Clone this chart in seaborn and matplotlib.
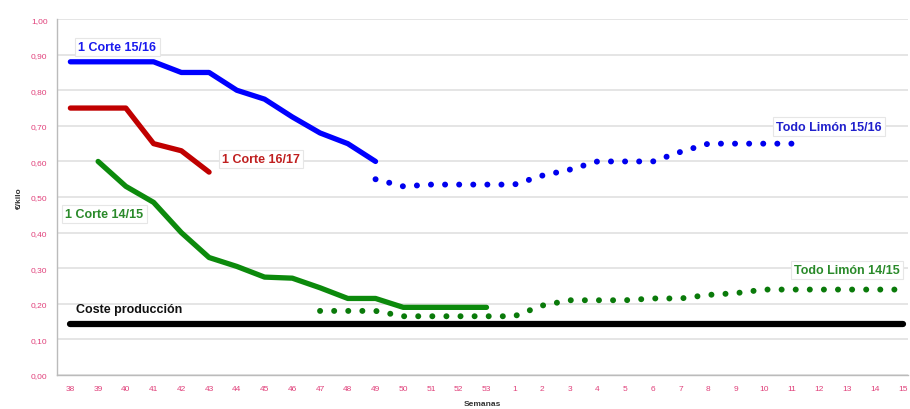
import numpy as np
import pandas as pd
import matplotlib
matplotlib.use("Agg")
import matplotlib.pyplot as plt
import seaborn as sns

weeks = [38, 39, 40, 41, 42, 43, 44, 45, 46, 47, 48, 49, 50, 51, 52, 53,
         1, 2, 3, 4, 5, 6, 7, 8, 9, 10, 11, 12, 13, 14, 15]
nan = np.nan
corte_15_16 = [0.88, 0.88, 0.88, 0.88, 0.85, 0.85, 0.80, 0.775, 0.725, 0.68, 0.65, 0.60] + [nan] * 19
corte_16_17 = [0.75, 0.75, 0.75, 0.65, 0.63, 0.57] + [nan] * 25
corte_14_15 = [nan, 0.60, 0.53, 0.485, 0.40, 0.33, 0.305, 0.275, 0.272, 0.245, 0.215, 0.215,
               0.19, 0.19, 0.19, 0.19] + [nan] * 15
todo_15_16 = [nan] * 11 + [0.55, 0.53, 0.535, 0.535, 0.535, 0.535, 0.56, 0.577, 0.60,
                           0.60, 0.60, 0.627, 0.65, 0.65, 0.65, 0.65] + [nan] * 4
todo_14_15 = [nan] * 9 + [0.18, 0.18, 0.18, 0.165, 0.165, 0.165, 0.165, 0.165, 0.195, 0.21,
                          0.21, 0.21, 0.215, 0.215, 0.225, 0.23, 0.24, 0.24, 0.24, 0.24, 0.24, 0.24]
coste = [0.143] * 31
yticks = [0.0, 0.1, 0.2, 0.3, 0.4, 0.5, 0.6, 0.7, 0.8, 0.9, 1.0]

pos = np.arange(len(weeks))
df = pd.DataFrame({"pos": pos, "c1516": corte_15_16, "c1617": corte_16_17, "c1415": corte_14_15,
                   "t1516": todo_15_16, "t1415": todo_14_15, "coste": coste})

sns.set_theme(style="white")
plt.rcParams['font.family'] = ['Liberation Sans', 'DejaVu Sans']

fig = plt.figure(figsize=(9.1, 4.1), dpi=100)
ax = fig.add_axes([0.063, 0.083, 0.935, 0.868])

dot = (0, (0.01, 2.35))
sns.lineplot(data=df, x="pos", y="coste", ax=ax, color="#000000", linewidth=4.5,
             solid_capstyle="round")
sns.lineplot(data=df, x="pos", y="c1516", ax=ax, color="#0000ff", linewidth=3.8)
sns.lineplot(data=df, x="pos", y="c1617", ax=ax, color="#c00000", linewidth=3.8)
sns.lineplot(data=df, x="pos", y="c1415", ax=ax, color="#0c8a0c", linewidth=3.8)
sns.lineplot(data=df, x="pos", y="t1516", ax=ax, color="#0000ee", linewidth=4.3,
             linestyle=dot, dash_capstyle="round")
sns.lineplot(data=df, x="pos", y="t1415", ax=ax, color="#0a7a0a", linewidth=4.3,
             linestyle=dot, dash_capstyle="round")

ax.set_xlim(-0.47, len(weeks) - 0.8)
ax.set_ylim(0, 1.0)
ax.set_xticks(pos)
ax.set_xticklabels([str(w) for w in weeks])
ax.set_yticks(yticks)
ax.set_yticklabels([f"{v:.2f}".replace(".", ",") for v in yticks])
ax.tick_params(axis="both", labelsize=6, colors="#e0407a", length=0, pad=7)
ax.grid(axis="y", color="#e0e0e0", linewidth=1.2)
ax.grid(axis="x", visible=False)
for s in ["top", "right"]:
    ax.spines[s].set_visible(False)
for s in ["left", "bottom"]:
    ax.spines[s].set_color("#bbbbbb")
    ax.spines[s].set_linewidth(1.0)
ax.set_xlabel("Semanas", fontsize=6, fontweight="bold", color="#333333", labelpad=6)
ax.set_ylabel("€/kilo", fontsize=6, fontweight="bold", color="#333333", labelpad=6)

fs = 9
box = dict(boxstyle="square,pad=0.25", facecolor="white", edgecolor="#e6e6e6", linewidth=0.8)
ax.text(0.29, 0.922, "1 Corte 15/16", color="#1a1aee", fontsize=fs, fontweight="bold", bbox=box, va="center")
ax.text(5.46, 0.607, "1 Corte 16/17", color="#c02020", fontsize=fs, fontweight="bold", bbox=box, va="center")
ax.text(-0.18, 0.453, "1 Corte 14/15", color="#2a8a2a", fontsize=fs, fontweight="bold", bbox=box, va="center")
ax.text(0.22, 0.185, "Coste producción", color="#111111", fontsize=fs, fontweight="bold", va="center")
ax.text(25.44, 0.698, "Todo Limón 15/16", color="#2020cc", fontsize=fs, fontweight="bold", bbox=box, va="center")
ax.text(26.09, 0.296, "Todo Limón 14/15", color="#2a8a2a", fontsize=fs, fontweight="bold", bbox=box, va="center")

fig.savefig("out.png", dpi=100)
